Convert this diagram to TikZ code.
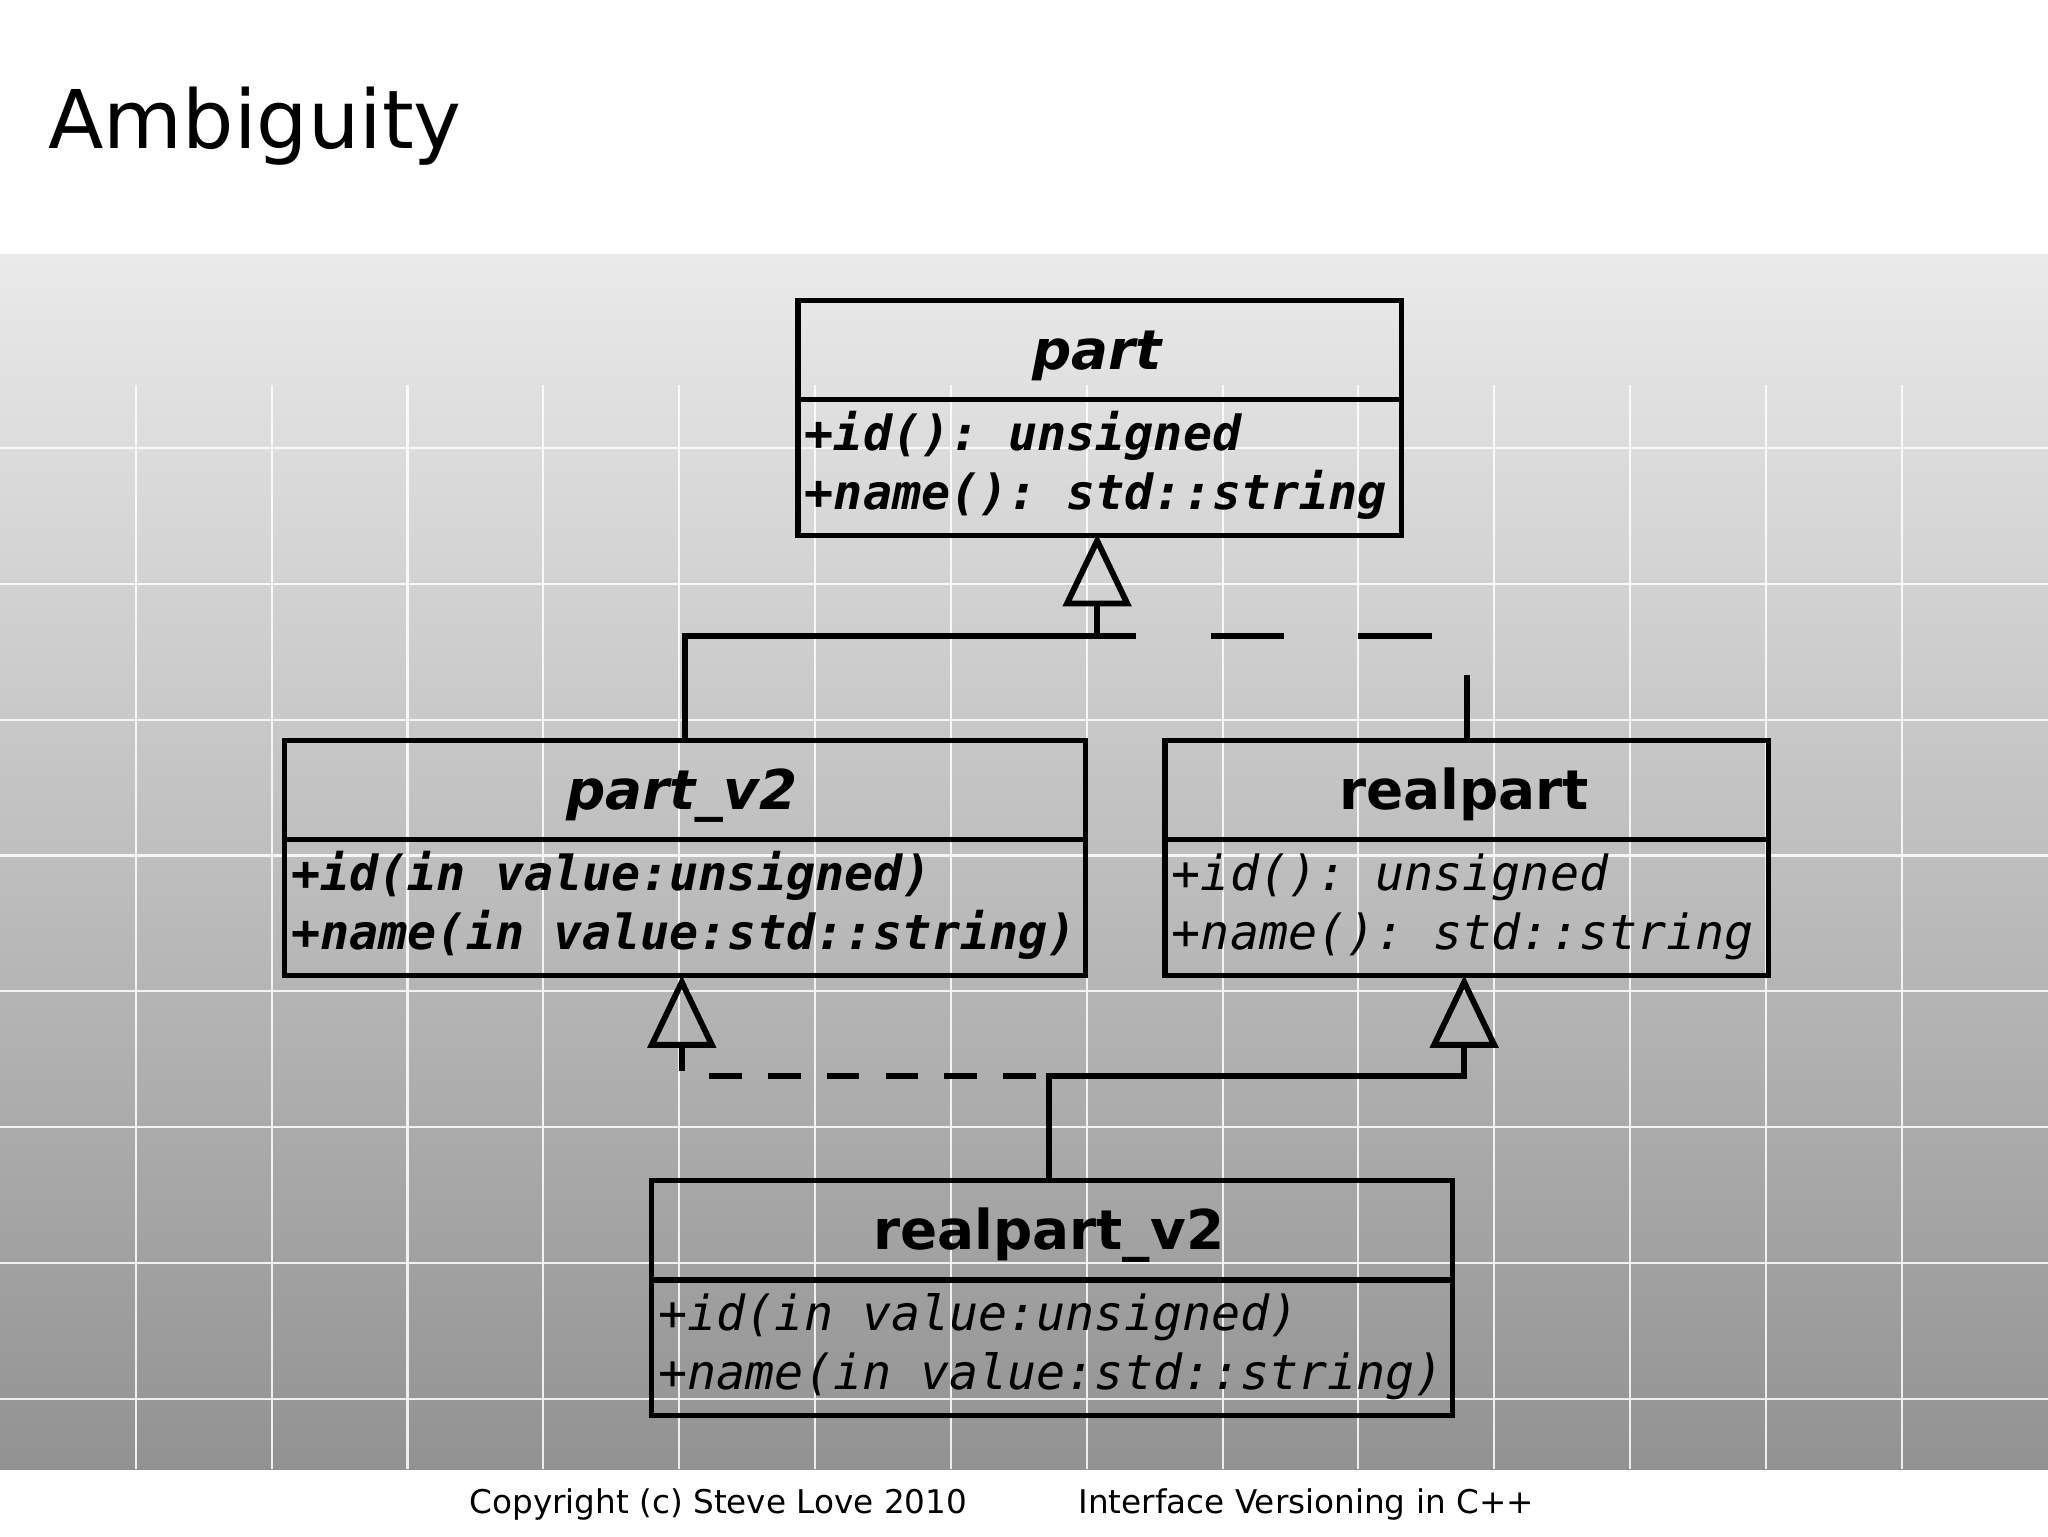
\documentclass[tikz,border=0pt]{standalone}
\usepackage{fontspec}
\setmainfont{DejaVu Sans}
\setmonofont{DejaVu Sans Mono}
\usetikzlibrary{calc}
\definecolor{gtop}{RGB}{234,234,234}
\definecolor{gbot}{RGB}{146,146,146}
\tikzset{
  umlbox/.style={draw=black,line width=4pt,minimum width=#1,minimum height=180pt,inner sep=0pt,anchor=north west},
  conn/.style={line width=4.5pt,draw=black},
  tri/.style={line width=4.5pt,draw=black,fill=none,line join=miter},
  ttl/.style={anchor=base,inner sep=0pt,font=\fontsize{42}{46}\selectfont\bfseries},
  att/.style={anchor=base west,inner sep=0pt,font=\ttfamily\fontsize{37}{40}\selectfont\itshape},
  gridl/.style={white,line width=1.6pt,opacity=0.85}
}
\begin{document}
\begin{tikzpicture}[x=1pt,y=-1pt]
\useasboundingbox (0,0) rectangle (1568,1176);
\fill[white] (0,0) rectangle (1568,1176);
\node[anchor=base west,inner sep=0pt,font=\fontsize{62}{68}\selectfont] (title) at (37,114) {Ambiguity};
\shade[top color=gtop,bottom color=gbot] (0,195) rectangle (1568,1125);
\foreach \x in {104,208,...,1456} \draw[gridl] (\x,295) -- (\x,1125);
\foreach \y in {343,447,...,1071} \draw[gridl] (0,\y) -- (1568,\y);
% boxes
\node[umlbox=462pt] (p) at (609,228) {};
\node[umlbox=613pt] (p2) at (216,565) {};
\node[umlbox=462pt] (r) at (890,565) {};
\node[umlbox=613pt] (r2) at (497,902) {};
\foreach \b in {p,p2,r,r2} \draw[line width=4pt] ($(\b.north west)+(0,78)$) -- ($(\b.north east)+(0,78)$);
% titles
\node[ttl,font=\fontsize{42}{46}\selectfont\bfseries\itshape] (tp) at (840,283) {part};
\node[ttl,font=\fontsize{42}{46}\selectfont\bfseries\itshape] (tp2) at (522,620) {part\_v2};
\node[ttl] (tr) at (1121,620) {realpart};
\node[ttl] (tr2) at (803,957) {realpart\_v2};
% attributes
\node[att,font=\ttfamily\fontsize{37}{40}\selectfont\bfseries\itshape] (a1) at (616,345) {+id(): unsigned};
\node[att,font=\ttfamily\fontsize{37}{40}\selectfont\bfseries\itshape] (a2) at (616,390) {+name(): std::string};
\node[att,font=\ttfamily\fontsize{37}{40}\selectfont\bfseries\itshape] (a3) at (223,682) {+id(in value:unsigned)};
\node[att,font=\ttfamily\fontsize{37}{40}\selectfont\bfseries\itshape] (a4) at (223,727) {+name(in value:std::string)};
\node[att] (a5) at (897,682) {+id(): unsigned};
\node[att] (a6) at (897,727) {+name(): std::string};
\node[att] (a7) at (504,1019) {+id(in value:unsigned)};
\node[att] (a8) at (504,1064) {+name(in value:std::string)};
% inheritance triangles
\coordinate (t1) at (840,414);
\coordinate (t2) at (522,752);
\coordinate (t3) at (1121,752);
\draw[tri] (t1) -- ++(-23,48) -- ++(46,0) -- cycle;
\draw[tri] (t2) -- ++(-23,48) -- ++(46,0) -- cycle;
\draw[tri] (t3) -- ++(-23,48) -- ++(46,0) -- cycle;
\coordinate (j1) at (840,487);
\coordinate (j2) at (803,824);
\coordinate (j3) at (522,824);
% connectors
\draw[conn] (p2.north) |- (j1) -- ($(t1)+(0,48)$);
\draw[conn,dash pattern=on 56pt off 57pt,dash phase=26pt] (j1) -| (r.north);
\draw[conn] (j2|-r2.north) -- (j2) -| ($(t3)+(0,48)$);
\draw[conn,dash pattern=on 25pt off 20pt] ($(j2)+(-10,0)$) -- ($(j3)+(18,0)$);
\draw[conn] ($(t2)+(0,48)$) -- ($(t2)+(0,68)$);
% footer
\node[anchor=base,inner sep=0pt,font=\fontsize{25}{29}\selectfont] (f1) at (550,1159) {Copyright (c) Steve Love 2010};
\node[anchor=base,inner sep=0pt,font=\fontsize{25}{29}\selectfont] (f2) at (1000,1159) {Interface Versioning in C++};
\end{tikzpicture}
\end{document}
